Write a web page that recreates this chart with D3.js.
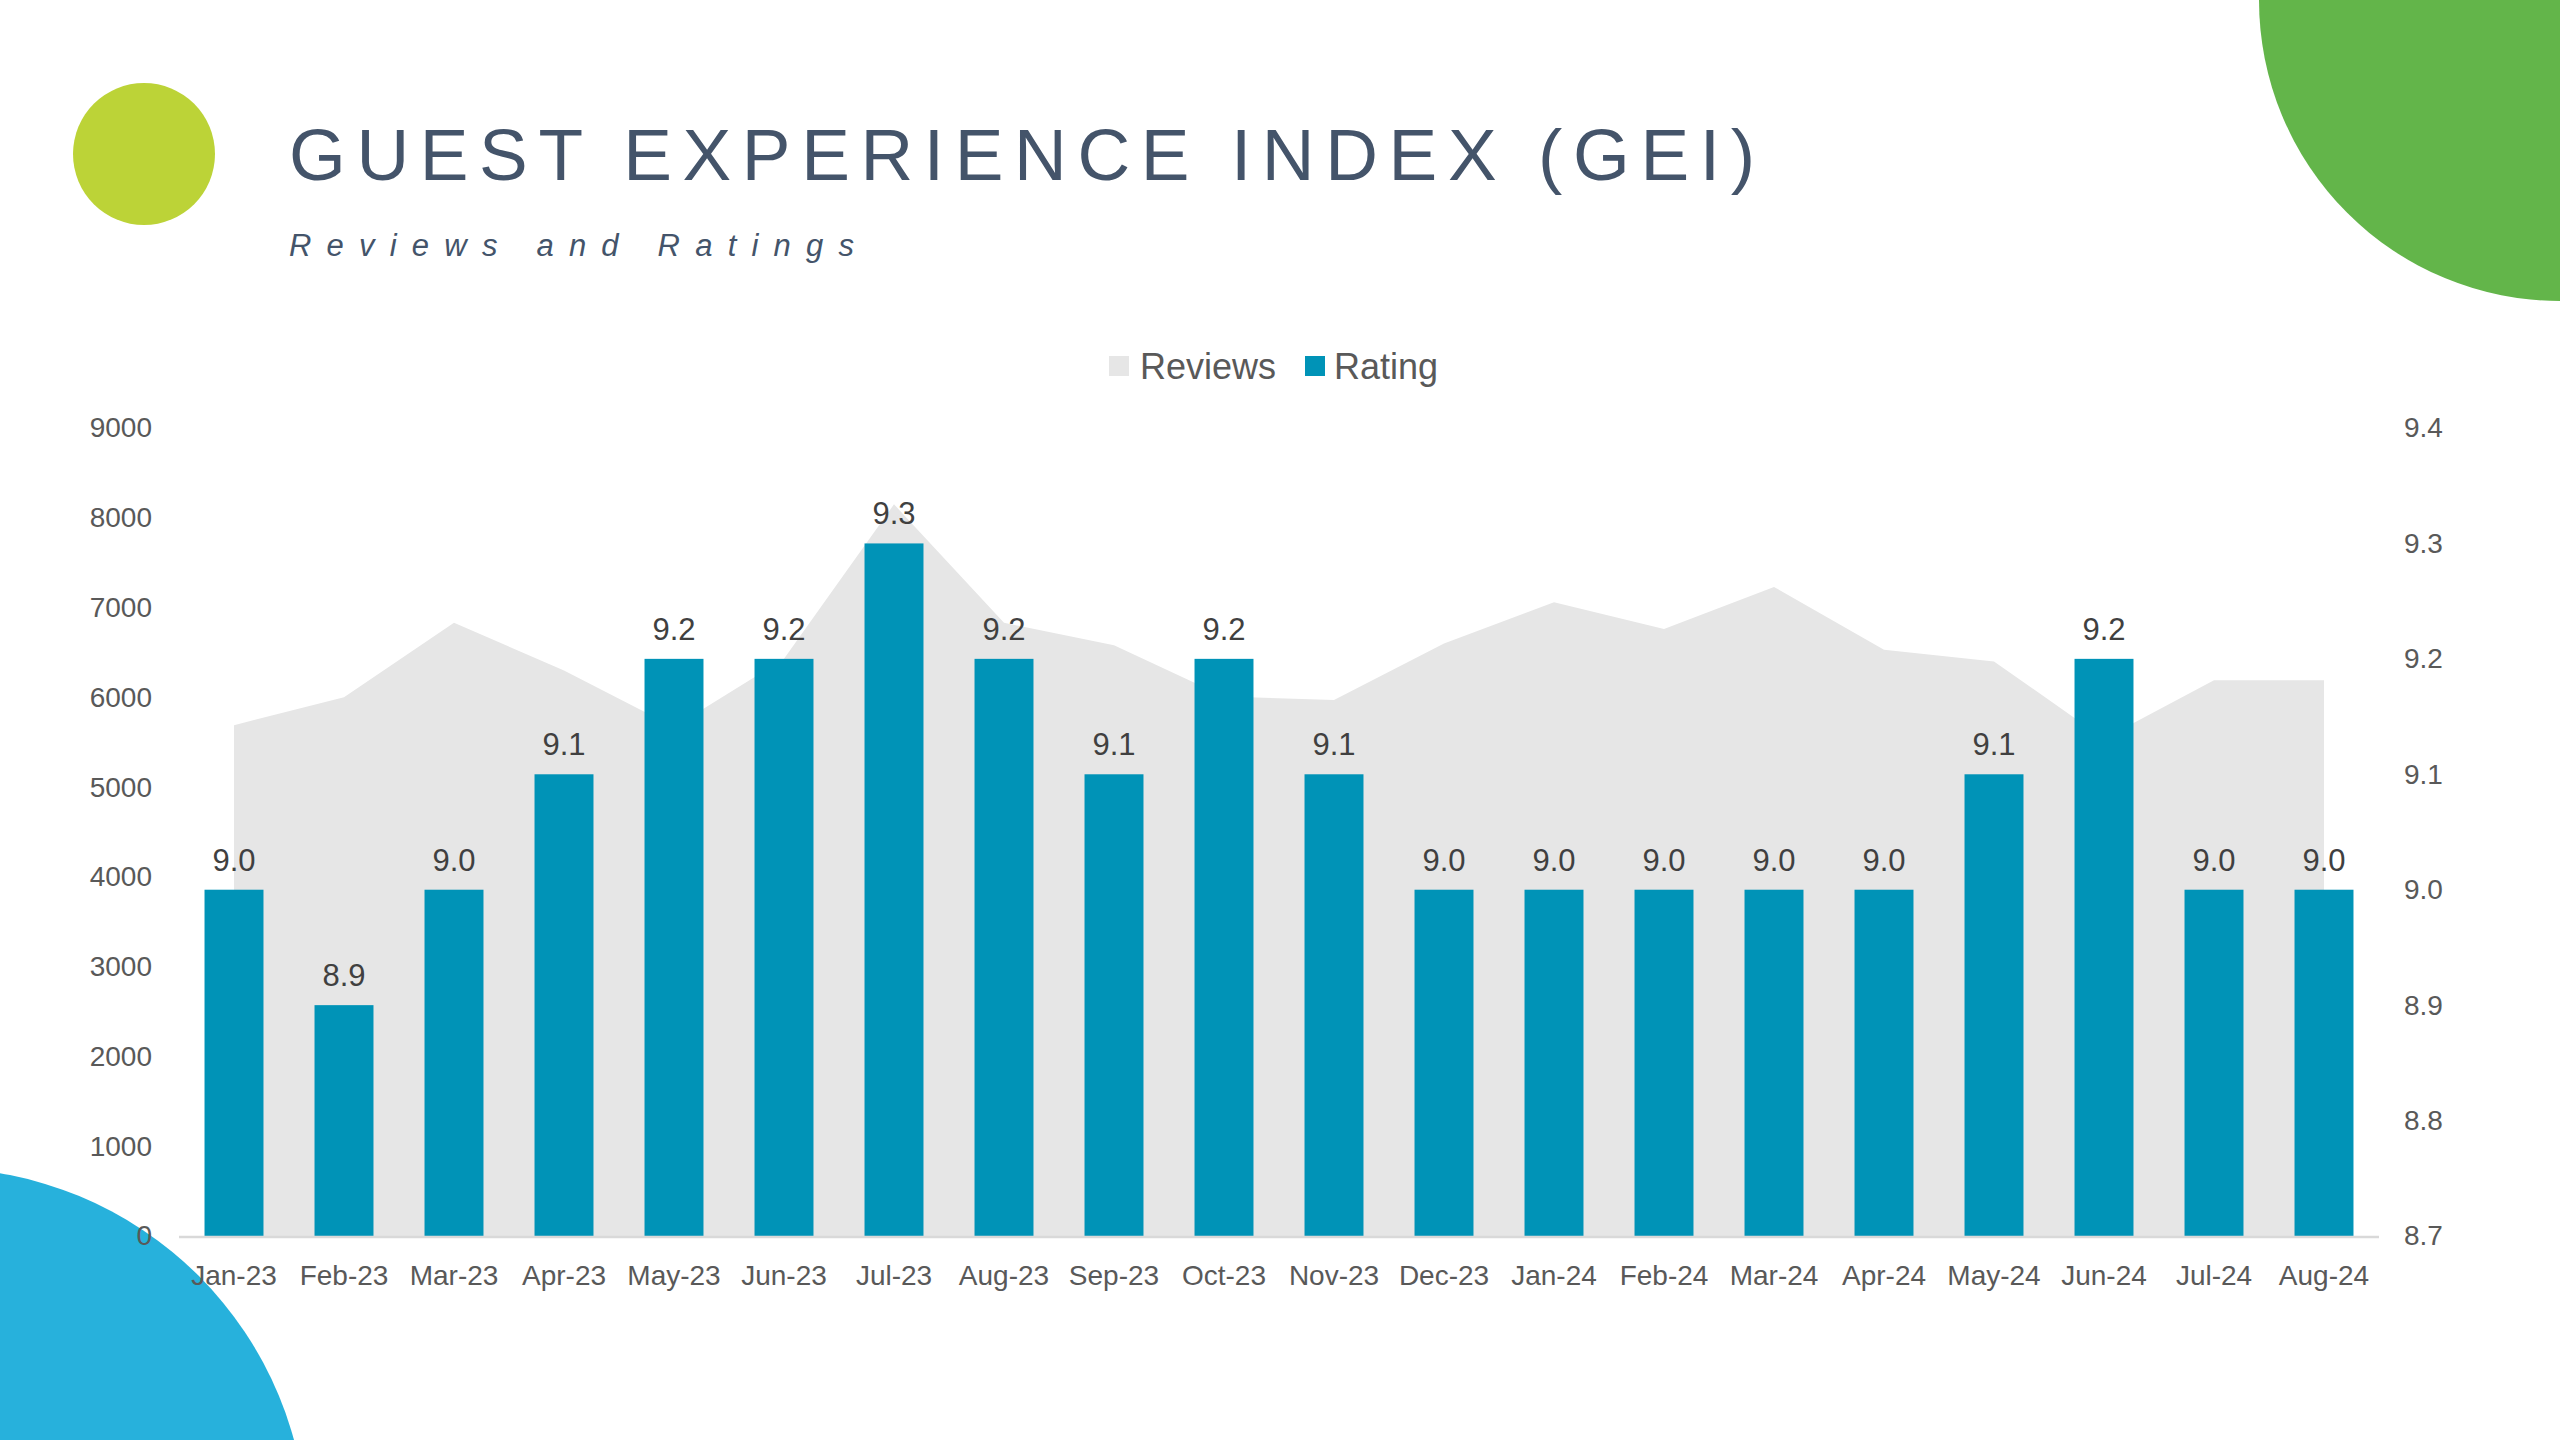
<!DOCTYPE html>
<html>
<head>
<meta charset="utf-8">
<script src="https://cdn.jsdelivr.net/npm/d3@7"></script>
<style>
  html, body { margin: 0; padding: 0; background: #ffffff; }
  svg { display: block; }
</style>
</head>
<body>
<svg id="chart" width="2560" height="1440"></svg>
<script>
const months = ["Jan-23","Feb-23","Mar-23","Apr-23","May-23","Jun-23","Jul-23","Aug-23","Sep-23","Oct-23","Nov-23","Dec-23","Jan-24","Feb-24","Mar-24","Apr-24","May-24","Jun-24","Jul-24","Aug-24"];
const reviews = [5690, 6000, 6830, 6300, 5670, 6430, 8150, 6830, 6580, 6010, 5970, 6600, 7060, 6760, 7230, 6530, 6400, 5540, 6190, 6190];
const rating = [9.0, 8.9, 9.0, 9.1, 9.2, 9.2, 9.3, 9.2, 9.1, 9.2, 9.1, 9.0, 9.0, 9.0, 9.0, 9.0, 9.1, 9.2, 9.0, 9.0];
const leftTicks = [0, 1000, 2000, 3000, 4000, 5000, 6000, 7000, 8000, 9000];
const rightTicks = [8.7, 8.8, 8.9, 9.0, 9.1, 9.2, 9.3, 9.4];
const seriesNames = ["Reviews", "Rating"];
const titleText = "GUEST EXPERIENCE INDEX (GEI)";
const subtitleText = "Reviews and Ratings";

const colors = { area: "#E6E6E6", bar: "#0093B7", title: "#44546A", text: "#595959", label: "#404040", axis: "#D9D9D9" };
const svg = d3.select("#chart");

// decorative shapes
svg.append("circle").attr("cx", 144).attr("cy", 154).attr("r", 71).attr("fill", "#BCD337");
svg.append("circle").attr("cx", 2560).attr("cy", 0).attr("r", 301).attr("fill", "#63B54A");
svg.append("circle").attr("cx", -62).attr("cy", 1537).attr("r", 369).attr("fill", "#27B1DC");

// title
const font = "'Liberation Sans', Arial, sans-serif";
function spaced(sel, target) {
  const n = sel.text().length;
  const w = sel.node().getComputedTextLength();
  sel.attr("letter-spacing", (target - w) / (n - 1));
}
const title = svg.append("text").attr("x", 289).attr("y", 180)
  .attr("font-family", font).attr("font-size", 73).attr("fill", colors.title)
  .text(titleText);
spaced(title, 1466);
const sub = svg.append("text").attr("x", 289).attr("y", 256)
  .attr("font-family", font).attr("font-size", 31).attr("font-style", "italic").attr("fill", colors.title)
  .text(subtitleText);
spaced(sub, 565);

// scales
const x = d3.scaleBand().domain(months).range([179, 2379]).padding(0);
const yL = d3.scaleLinear().domain([0, 9000]).range([1236, 428]);
const yR = d3.scaleLinear().domain([8.7, 9.4]).range([1236, 428]);
const cx = m => x(m) + x.bandwidth() / 2;
const barW = x.bandwidth() * 0.536;

// area
const area = d3.area().x((d, i) => cx(months[i])).y0(yL(0)).y1(d => yL(d));
svg.append("path").datum(reviews).attr("d", area).attr("fill", colors.area);

// bars
svg.append("g").selectAll("rect").data(rating).join("rect")
  .attr("x", (d, i) => cx(months[i]) - barW / 2)
  .attr("y", d => yR(d))
  .attr("width", barW)
  .attr("height", d => yR(8.7) - yR(d))
  .attr("fill", colors.bar);

// value labels
svg.append("g").selectAll("text").data(rating).join("text")
  .attr("x", (d, i) => cx(months[i]))
  .attr("y", d => yR(d) - 19)
  .attr("text-anchor", "middle")
  .attr("font-family", font).attr("font-size", 31).attr("fill", colors.label)
  .text(d => d3.format(".1f")(d));

// x axis line
svg.append("line").attr("x1", 179).attr("x2", 2379).attr("y1", 1237).attr("y2", 1237)
  .attr("stroke", colors.axis).attr("stroke-width", 2.5);

// axes
const xAxis = d3.axisBottom(x).tickSize(0).tickPadding(0);
const gx = svg.append("g").attr("transform", "translate(0,1258)").call(xAxis);
gx.select(".domain").remove();
gx.selectAll("text").attr("font-family", font).attr("font-size", 28).attr("fill", colors.text).attr("dy", "0.95em");

const gl = svg.append("g").attr("transform", "translate(152,0)")
  .call(d3.axisLeft(yL).tickValues(leftTicks).tickSize(0).tickPadding(0).tickFormat(d3.format("d")));
gl.select(".domain").remove();
gl.selectAll("text").attr("font-family", font).attr("font-size", 28).attr("fill", colors.text);

const gr = svg.append("g").attr("transform", "translate(2404,0)")
  .call(d3.axisRight(yR).tickValues(rightTicks).tickSize(0).tickPadding(0).tickFormat(d3.format(".1f")));
gr.select(".domain").remove();
gr.selectAll("text").attr("font-family", font).attr("font-size", 28).attr("fill", colors.text);

// legend
const legend = svg.append("g");
const legendItems = [
  { name: seriesNames[0], color: colors.area, sx: 1109, tx: 1140 },
  { name: seriesNames[1], color: colors.bar, sx: 1305, tx: 1334 }
];
legendItems.forEach(it => {
  legend.append("rect").attr("x", it.sx).attr("y", 356).attr("width", 20).attr("height", 20).attr("fill", it.color);
  legend.append("text").attr("x", it.tx).attr("y", 366).attr("dy", "0.35em")
    .attr("font-family", font).attr("font-size", 36).attr("fill", colors.text).text(it.name);
});
</script>
</body>
</html>
